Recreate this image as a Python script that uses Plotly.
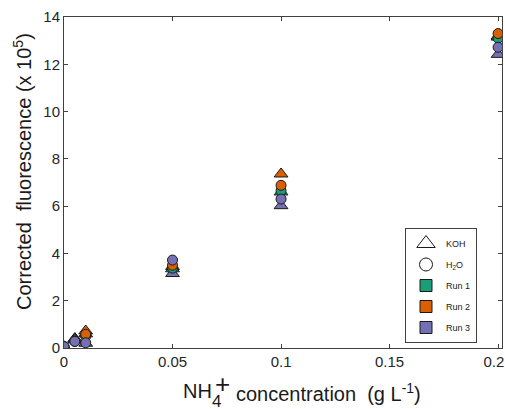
import plotly.graph_objects as go

# ---- data ----
conc = [0, 0.005, 0.01, 0.05, 0.1, 0.2]
koh_run1 = [0.05, 0.38, 0.60, 3.35, 6.60, 13.15]
koh_run2 = [0.05, 0.40, 0.72, 3.45, 7.36, 13.20]
koh_run3 = [0.03, 0.35, 0.20, 3.15, 6.02, 12.42]
h2o_run1 = [0.05, 0.28, 0.50, 3.38, 6.65, 13.10]
h2o_run2 = [0.06, 0.30, 0.58, 3.50, 6.88, 13.30]
h2o_run3 = [0.06, 0.28, 0.22, 3.72, 6.30, 12.72]
run_names = ["Run 1", "Run 2", "Run 3"]
x_ticks = [0, 0.05, 0.1, 0.15, 0.2]
x_ticklabels = ["0", "0.05", "0.1", "0.15", "0.2&nbsp;&nbsp;"]
y_ticks = [0, 2, 4, 6, 8, 10, 12, 14]

colors = ["#1b9e77", "#d95f02", "#7570b3"]
edge = "#1a1a1a"
font = "Liberation Sans, Arial, Helvetica, sans-serif"

fig = go.Figure()

for vals, c in zip([koh_run1, koh_run2, koh_run3], colors):
    fig.add_trace(go.Scatter(x=conc, y=vals, mode="markers", showlegend=False,
                             marker=dict(symbol="triangle-up", size=12, color=c,
                                         line=dict(color=edge, width=1))))
for vals, c in zip([h2o_run1, h2o_run2, h2o_run3], colors):
    fig.add_trace(go.Scatter(x=conc, y=vals, mode="markers", showlegend=False,
                             marker=dict(symbol="circle", size=10, color=c,
                                         line=dict(color=edge, width=1))))

# legend entries
legend_items = [("KOH", "triangle-up", "white", 16),
                ("H<sub>2</sub>O", "circle", "white", 13)]
legend_items += [(n, "square", c, 12) for n, c in zip(run_names, colors)]
for i, (name, sym, col, sz) in enumerate(legend_items):
    fig.add_trace(go.Scatter(x=[None], y=[None], mode="markers", name=name,
                             legendgroup=f"g{i}",
                             marker=dict(symbol=sym, size=sz, color=col,
                                         line=dict(color=edge, width=1))))

axis_common = dict(showline=True, linecolor="#404040", linewidth=1, mirror="ticks",
                   ticks="inside", ticklen=4, tickcolor="#404040", showgrid=False,
                   zeroline=False, ticklabeloverflow="allow", automargin=False,
                   tickfont=dict(family=font, size=15, color="#262626"))

fig.update_xaxes(range=[0, 0.2018], tickvals=x_ticks, ticktext=x_ticklabels, **axis_common)
fig.update_yaxes(range=[0, 14], tickvals=y_ticks, **axis_common)

H = 331.0
def py(ypx):
    return (348 - ypx) / H
W = 438.0
def px(xpx):
    return (xpx - 64) / W

ann = [
    dict(text="Corrected&nbsp;&nbsp;fluorescence (x 10<sup>5</sup>)", x=px(22), y=py(172),
         textangle=-90, font=dict(size=20, family=font, color="#1a1a1a"),
         xanchor="center", yanchor="middle"),
    dict(text="NH", x=px(181), y=py(391), xanchor="left", yanchor="middle",
         font=dict(size=20, family=font, color="#1a1a1a")),
    dict(text="4", x=px(210), y=py(401), xanchor="left", yanchor="middle",
         font=dict(size=17, family=font, color="#1a1a1a")),
    dict(text="+", x=px(222), y=py(384), xanchor="center", yanchor="middle",
         font=dict(size=26, family=font, color="#1a1a1a")),
    dict(text="concentration&nbsp;&nbsp;(g L<sup>-1</sup>)", x=px(234), y=py(392),
         xanchor="left", yanchor="middle",
         font=dict(size=20, family=font, color="#1a1a1a")),
]
for a in ann:
    a.update(xref="paper", yref="paper", showarrow=False)

fig.update_layout(
    width=505, height=409,
    margin=dict(l=64, r=3, t=17, b=61),
    plot_bgcolor="white", paper_bgcolor="white",
    font=dict(family=font, color="#1a1a1a"),
    annotations=ann,
    showlegend=True,
    legend=dict(x=px(405), y=py(228), xanchor="left", yanchor="top",
                bgcolor="white", bordercolor="#404040", borderwidth=1,
                font=dict(size=9, family=font, color="#1a1a1a"),
                tracegroupgap=2, itemsizing="trace"),
)

fig.write_html("out.html", config={"displayModeBar": False},
               post_script="document.body.style.margin='0';document.body.style.overflow='hidden';")
